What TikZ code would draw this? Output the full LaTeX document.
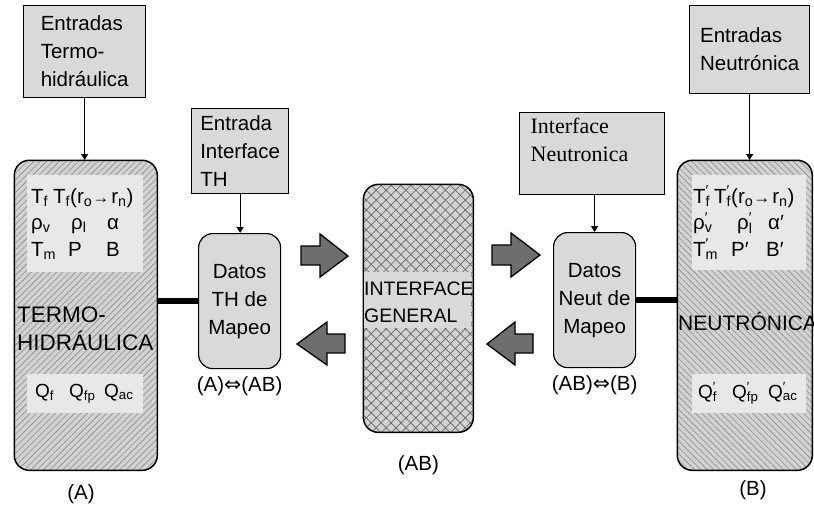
\documentclass[tikz,border=0pt]{standalone}
\usepackage{fontspec}
\setmainfont{Liberation Sans}
\newfontfamily\serifa{Liberation Serif}
\newfontfamily\symf{DejaVu Sans}
\usetikzlibrary{positioning, arrows.meta, patterns.meta}

\newcommand{\fs}[2]{\fontsize{#1}{#2}\selectfont}
\newcommand{\sbs}[1]{\textsubscript{#1}}
\newcommand{\sbp}[1]{\rlap{\textsuperscript{′}}\textsubscript{#1}}
\newcommand{\dimp}{{\symf ⇔}}
\newcommand{\rarr}{{\fs{17}{17}→}}

\begin{document}
\begin{tikzpicture}[
    x=1pt, y=-1pt,
    inbox/.style={draw, line width=1.3pt, fill=gray!30, align=left, inner sep=0pt, anchor=north west, font=\fs{20.5}{28}},
    datbox/.style={draw, line width=1.2pt, fill=gray!30, rounded corners=14pt, align=center, inner sep=0pt, anchor=north west, minimum width=82pt, minimum height=135pt, font=\fs{20.5}{28}},
    block/.style={draw, line width=1.5pt, rounded corners=15pt, inner sep=0pt, anchor=north west, preaction={fill=gray!35}},
    hatchA/.style={block, pattern={Lines[angle=45, distance=4.5pt, line width=0.6pt]}, pattern color=black!45},
    hatchB/.style={block, pattern={Lines[angle=-45, distance=4.5pt, line width=0.6pt]}, pattern color=black!45},
    cross/.style={block, preaction={pattern={Lines[angle=45, distance=7pt, line width=0.7pt]}, pattern color=black!60}, pattern={Lines[angle=-45, distance=7pt, line width=0.7pt]}, pattern color=black!60},
    panel/.style={fill=gray!18, inner ysep=0pt, anchor=north west, align=left, font=\fs{20.5}{26.5}},
    title/.style={inner sep=0pt, align=left, font=\fs{22.5}{28}},
    blkarrow/.style={draw, line width=1.3pt, fill=black!57, line join=miter},
    feed/.style={-{Triangle[length=6pt, width=7pt]}, line width=1.2pt},
    link/.style={line width=5.5pt},
    tag/.style={inner sep=0pt, font=\fs{20.5}{22}}
]
\useasboundingbox (0,0) rectangle (814,507);

% Input boxes
\node[inbox, minimum width=122pt, minimum height=92pt] (entTH) at (23,5) {Entradas\\Termo-\\hidráulica};
\node[inbox, minimum width=97pt, minimum height=85pt] (intTH) at (191,108) {Entrada\\Interface\\TH};
\node[inbox, inner xsep=11pt, text width=123pt, minimum height=82pt, font=\serifa\fs{22}{28}] (intN) at (519,112) {Interface\\Neutronica\\\mbox{}};
\node[inbox, minimum width=120pt, minimum height=88pt] (entN) at (689,5) {Entradas\\Neutrónica};

% Thermo-hydraulic block (A)
\node[hatchA, minimum width=143pt, minimum height=310pt] (termo) at (14,160) {};
\node[panel, inner xsep=4pt, text width=108pt, minimum height=97pt] (varA) at (27,175)
  {\mbox{T\sbs{f}\hspace{5pt}T\sbs{f}(r\sbs{o}\rarr\hspace{2pt}r\sbs{n})}\\
   \makebox[40pt][l]{ρ\sbs{v}}\makebox[36pt][l]{ρ\sbs{l}}α\\
   \makebox[37pt][l]{T\sbs{m}}\makebox[38pt][l]{P}B};
\node[panel, inner xsep=8pt, text width=100pt, minimum height=39pt, font=\fs{19}{22}] (qA) at (27,374)
  {\makebox[34pt][l]{Q\sbs{f}}\makebox[35pt][l]{Q\sbs{fp}}Q\sbs{ac}};
\node[title, anchor=west] (titA) at (17,329) {TERMO-\\HIDRÁULICA};

% Neutronic block (B)
\node[hatchB, minimum width=135pt, minimum height=310pt] (neut) at (677,160) {};
\node[panel, inner xsep=1pt, text width=112pt, minimum height=95pt] (varB) at (692,175)
  {\mbox{T\sbp{f}\hspace{4pt}T\sbp{f}(r\sbs{o}\rarr\hspace{2pt}r\sbs{n})}\\
   \makebox[44pt][l]{ρ\sbp{v}}\makebox[31pt][l]{ρ\sbp{l}}α′\\
   \makebox[38pt][l]{T\sbp{m}}\makebox[35pt][l]{P′}B′};
\node[panel, inner xsep=6pt, text width=102pt, minimum height=39pt, font=\fs{19}{22}] (qB) at (692,374)
  {\makebox[34pt][l]{Q\sbp{f}}\makebox[36pt][l]{Q\sbp{fp}}Q\sbp{ac}};
\node[title, anchor=base west, font=\fs{21}{28}] (titB) at (678,330) {NEUTRÓNICA};

% General interface (AB)
\node[cross, minimum width=110pt, minimum height=248pt] (gen) at (363,184) {};
\node[fill=gray!30, inner sep=0pt, anchor=north west, minimum width=107pt, minimum height=56pt] (genband) at (364,272) {};
\node[title, anchor=west, font=\fs{19.5}{27}] (titGen) at (364,302) {INTERFACE\\GENERAL};

% Mapping data
\node[datbox] (datTH) at (198,233) {Datos\\TH de\\Mapeo};
\node[datbox] (datN) at (553,232) {Datos\\Neut de\\Mapeo};

% Labels
\node[tag] (tagA) at (81,494) {(A)};
\node[tag] (tagB) at (753,490) {(B)};
\node[tag, below=23pt of gen] (tagAB) {(AB)};
\node[tag, below=7pt of datTH] (mapA) {(A)\dimp(AB)};
\node[tag, below=7pt of datN] (mapB) {(AB)\dimp(B)};

% Edges
\draw[feed] (entTH.south) -- (entTH.south |- termo.north);
\draw[feed] (intTH.south) -- (intTH.south |- datTH.north);
\draw[feed] (datN.north |- intN.south) -- (datN.north);
\draw[feed] (entN.south) -- (entN.south |- neut.north);
\draw[link] (datTH.west -| termo.east) -- (datTH.west);
\draw[link] (datN.east) -- (datN.east -| neut.west);

% Block arrows
\draw[blkarrow] (301,246) -- (320,246) -- (320,234) -- (348,256) -- (320,277) -- (320,265) -- (301,265) -- cycle;
\draw[blkarrow] (345,334) -- (327,334) -- (327,322) -- (297,344) -- (327,365) -- (327,353) -- (345,353) -- cycle;
\draw[blkarrow] (492,245) -- (511,245) -- (511,233) -- (540,255) -- (511,277) -- (511,265) -- (492,265) -- cycle;
\draw[blkarrow] (533,334) -- (515,334) -- (515,322) -- (487,344) -- (515,365) -- (515,353) -- (533,353) -- cycle;

\end{tikzpicture}
\end{document}
